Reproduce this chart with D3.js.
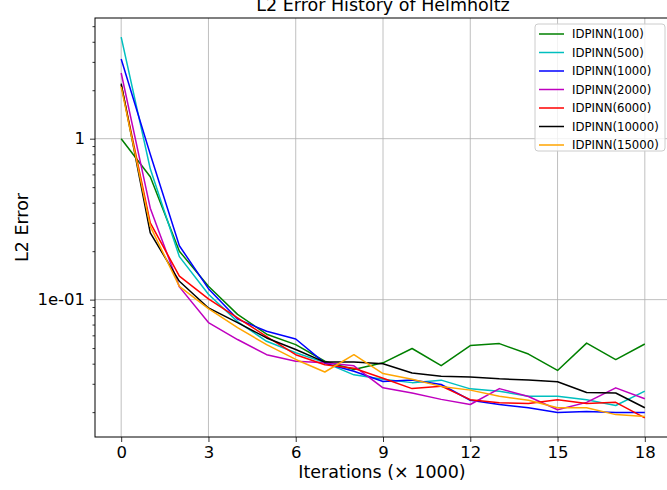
<!DOCTYPE html>
<html>
<head>
<meta charset="utf-8">
<script src="https://cdn.jsdelivr.net/npm/d3@7"></script>
<style>
  body { margin: 0; background: #fff; }
  #chart { width: 667px; height: 490px; }
  text { font-family: "DejaVu Sans", sans-serif; fill: #000; }
</style>
</head>
<body>
<div id="chart"></div>
<script>
// iterations (x 1000)
const iterations = d3.range(0, 19);

const seriesNames = ['IDPINN(100)', 'IDPINN(500)', 'IDPINN(1000)', 'IDPINN(2000)',
                     'IDPINN(6000)', 'IDPINN(10000)', 'IDPINN(15000)'];
const seriesColors = ['green', '#00bfbf', 'blue', '#bf00bf', 'red', 'black', 'orange'];

const idpinn100 = [1.0, 0.58, 0.2, 0.121, 0.081, 0.061, 0.0525, 0.0414, 0.0368, 0.0405,
                   0.0497, 0.0389, 0.0518, 0.0533, 0.0459, 0.0363, 0.0537, 0.0424, 0.053];
const idpinn500 = [4.28, 0.65, 0.185, 0.108, 0.073, 0.0551, 0.0468, 0.0406, 0.0341, 0.032,
                   0.0305, 0.0316, 0.0279, 0.027, 0.0251, 0.0251, 0.0239, 0.022, 0.027];
const idpinn1000 = [3.13, 0.8, 0.216, 0.117, 0.0757, 0.0636, 0.0569, 0.0403, 0.0359, 0.031,
                    0.0317, 0.0297, 0.0237, 0.0223, 0.0213, 0.0199, 0.0202, 0.0199, 0.0199];
const idpinn2000 = [2.56, 0.37, 0.12, 0.072, 0.0565, 0.0455, 0.0414, 0.0406, 0.0388, 0.0283,
                    0.0263, 0.024, 0.0223, 0.028, 0.025, 0.0207, 0.023, 0.0283, 0.0242];
const idpinn6000 = [2.16, 0.30, 0.14, 0.101, 0.077, 0.059, 0.0455, 0.0394, 0.0375, 0.0325,
                    0.028, 0.029, 0.0239, 0.0229, 0.0226, 0.0239, 0.0226, 0.023, 0.0184];
const idpinn10000 = [2.2, 0.26, 0.13, 0.0888, 0.072, 0.0578, 0.049, 0.0409, 0.0409, 0.04,
                     0.035, 0.0334, 0.0331, 0.0322, 0.0317, 0.0309, 0.0265, 0.0263, 0.0213];
const idpinn15000 = [2.1, 0.285, 0.121, 0.088, 0.067, 0.0525, 0.0425, 0.0355, 0.0455, 0.0347,
                     0.032, 0.0289, 0.0274, 0.0251, 0.0237, 0.0213, 0.0213, 0.0193, 0.0188];

const seriesValues = [idpinn100, idpinn500, idpinn1000, idpinn2000,
                      idpinn6000, idpinn10000, idpinn15000];

const xTicks = [0, 3, 6, 9, 12, 15, 18];
const yMajorTicks = [1, 0.1];
const yTickLabels = ['1', '1e-01'];

// Figure layout
const width = 667, height = 490;
const margin = { top: 18, left: 95, right: -4, bottom: 53 };

const svg = d3.select('#chart').append('svg')
  .attr('width', width)
  .attr('height', height);

// x axis padded by 5% of the data range, like matplotlib
const xPad = 0.05 * (d3.max(iterations) - d3.min(iterations));
const x = d3.scaleLinear()
  .domain([d3.min(iterations) - xPad, d3.max(iterations) + xPad])
  .range([margin.left, width - margin.right]);

// y axis padded by 5% in log space
const allVals = seriesValues.flat();
const lo = Math.log10(d3.min(allVals)), hi = Math.log10(d3.max(allVals));
const yPad = 0.05 * (hi - lo);
const y = d3.scaleLog()
  .domain([Math.pow(10, lo - yPad), Math.pow(10, hi + yPad)])
  .range([height - margin.bottom, margin.top]);

const plotW = x.range()[1] - x.range()[0];
const plotH = y.range()[0] - y.range()[1];

// Grid lines
const grid = svg.append('g').attr('class', 'grid');
grid.selectAll('.vgrid').data(xTicks).join('line')
  .attr('x1', d => x(d)).attr('x2', d => x(d))
  .attr('y1', margin.top).attr('y2', margin.top + plotH)
  .attr('stroke', '#b0b0b0').attr('stroke-width', 0.8);
grid.selectAll('.hgrid').data(yMajorTicks).join('line')
  .attr('x1', margin.left).attr('x2', margin.left + plotW)
  .attr('y1', d => y(d)).attr('y2', d => y(d))
  .attr('stroke', '#b0b0b0').attr('stroke-width', 0.8);

// Data lines
const line = d3.line()
  .x((d, i) => x(iterations[i]))
  .y(d => y(d));

svg.append('g').attr('class', 'lines')
  .selectAll('path').data(seriesValues).join('path')
  .attr('d', line)
  .attr('fill', 'none')
  .attr('stroke', (d, i) => seriesColors[i])
  .attr('stroke-width', 1.5)
  .attr('stroke-linejoin', 'round');

// Axes
const xAxis = d3.axisBottom(x).tickValues(xTicks).tickSize(5).tickPadding(4)
  .tickFormat(d3.format('d'));
const gx = svg.append('g')
  .attr('transform', `translate(0, ${margin.top + plotH})`)
  .call(xAxis);

// minor ticks on the log axis
const [yMin, yMax] = y.domain();
const minor = [];
for (let e = Math.floor(Math.log10(yMin)); e <= Math.ceil(Math.log10(yMax)); e++) {
  for (let m = 2; m <= 9; m++) {
    const v = m * Math.pow(10, e);
    if (v >= yMin && v <= yMax) minor.push(v);
  }
}
const gyMinor = svg.append('g')
  .attr('transform', `translate(${margin.left}, 0)`)
  .call(d3.axisLeft(y).tickValues(minor).tickSize(2.5).tickFormat(''));
gyMinor.select('.domain').remove();

const yAxis = d3.axisLeft(y).tickValues(yMajorTicks).tickSize(5).tickPadding(5)
  .tickFormat((d, i) => yTickLabels[i]);
const gy = svg.append('g')
  .attr('transform', `translate(${margin.left}, 0)`)
  .call(yAxis);

[gx, gy, gyMinor].forEach(g => {
  g.selectAll('text').style('font', '16.5px "DejaVu Sans", sans-serif').attr('fill', '#000');
  g.selectAll('line').attr('stroke', '#000').attr('stroke-width', 0.8);
  g.select('.domain').attr('stroke', 'none');
});

// Plot frame
svg.append('rect')
  .attr('x', margin.left).attr('y', margin.top)
  .attr('width', plotW).attr('height', plotH)
  .attr('fill', 'none').attr('stroke', '#000').attr('stroke-width', 1);

// Labels and title
svg.append('text')
  .attr('x', margin.left + plotW / 2 - 1).attr('y', 478)
  .attr('text-anchor', 'middle')
  .style('font-size', '17.5px')
  .text('Iterations (× 1000)');

svg.append('text')
  .attr('transform', `translate(28, ${margin.top + plotH / 2}) rotate(-90)`)
  .attr('text-anchor', 'middle')
  .style('font-size', '17.5px')
  .text('L2 Error');

svg.append('text')
  .attr('x', margin.left + plotW / 2).attr('y', 11)
  .attr('text-anchor', 'middle')
  .style('font-size', '17.5px')
  .text('L2 Error History of Helmholtz');

// Legend
const legend = svg.append('g').attr('transform', 'translate(535, 24)');
legend.append('rect')
  .attr('width', 130).attr('height', 127)
  .attr('rx', 3)
  .attr('fill', 'rgba(255,255,255,0.8)')
  .attr('stroke', '#cccccc').attr('stroke-width', 1);

const items = legend.selectAll('.item').data(seriesNames).join('g')
  .attr('class', 'item')
  .attr('transform', (d, i) => `translate(0, ${10 + i * 18.5})`);
items.append('line')
  .attr('x1', 4).attr('x2', 29)
  .attr('stroke', (d, i) => seriesColors[i])
  .attr('stroke-width', 1.5);
items.append('text')
  .attr('x', 37).attr('dy', '0.35em')
  .style('font-size', '11.7px')
  .text(d => d);
</script>
</body>
</html>
